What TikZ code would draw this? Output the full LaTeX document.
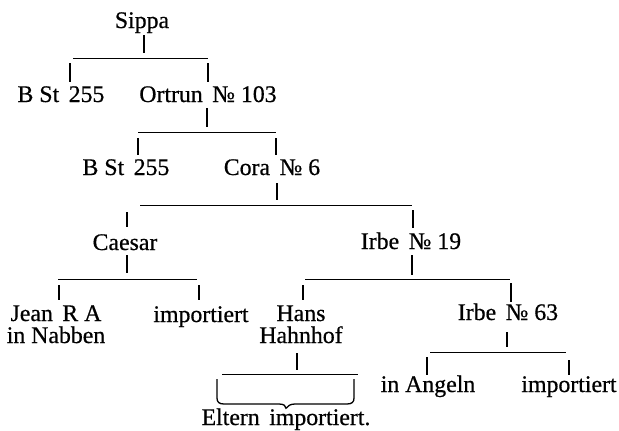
\documentclass[tikz,border=0pt]{standalone}
\usepackage{fontspec}
\setmainfont{Liberation Serif}
\newfontfamily\stammfamily{Liberation Serif}[FakeBold=0.6]
\newcommand{\stammfont}{\stammfamily\fontsize{23.8}{22}\selectfont}
\newcommand{\gap}{\hspace{0.4em}}
\tikzset{
  entry/.style={inner sep=0pt, anchor=base, font=\stammfont, align=center},
  stub/.style={line width=1.3pt},
  bar/.style={line width=0.9pt},
}
\begin{document}
\begin{tikzpicture}[x=1pt, y=-1pt]
    \useasboundingbox (0,0) rectangle (619,431);

    % Namen
    \node[entry] (sippa)  at (142,28)  {Sippa};
    \node[entry] (bst1)   at (61,102)  {B St\gap 255};
    \node[entry] (ortrun) at (208,102) {Ortrun\gap № 103};
    \node[entry] (bst2)   at (126,175) {B St\gap 255};
    \node[entry] (cora)   at (272,175) {Cora\gap № 6};
    \node[entry] (caesar) at (125,250) {Caesar};
    \node[entry] (irbe1)  at (411,249) {Irbe\gap № 19};
    \node[entry] (jean)   at (56,343)  {Jean\gap R A\\in Nabben};
    \node[entry] (imp1)   at (201,322) {importiert};
    \node[entry] (hans)   at (301,343) {Hans\\Hahnhof};
    \node[entry] (irbe2)  at (508,320) {Irbe\gap № 63};
    \node[entry] (angeln) at (428,392) {in Angeln};
    \node[entry] (imp2)   at (569,392) {importiert};
    \node[entry] (eltern) at (286,425) {Eltern\gap importiert.};

    % Querbalken
    \draw[bar] (73,58)   coordinate (a1) -- (208,58)  coordinate (a2);
    \draw[bar] (138,132) coordinate (b1) -- (276,132) coordinate (b2);
    \draw[bar] (140,205) coordinate (c1) -- (412,205) coordinate (c2);
    \draw[bar] (58,279)  coordinate (d1) -- (197,279) coordinate (d2);
    \draw[bar] (305,279) coordinate (e1) -- (510,279) coordinate (e2);
    \draw[bar] (222,374) coordinate (f1) -- (358,374) coordinate (f2);
    \draw[bar] (430,352) coordinate (g1) -- (566,352) coordinate (g2);

    % Striche nach oben
    \draw[stub] (sippa.south)  ++(2,2)  -- ++(0,18);
    \draw[stub] (ortrun.south) ++(-1,6) -- ++(0,19);
    \draw[stub] (cora.south)   ++(5,8)  -- ++(0,17);
    \draw[stub] (caesar.south) ++(2,5)  -- ++(0,18);
    \draw[stub] (irbe1.south)  ++(1,6)  -- ++(0,20);
    \draw[stub] (hans.south)   ++(-4,10) -- ++(0,17);
    \draw[stub] (irbe2.south)  ++(-1,12) -- ++(0,15);

    % Striche nach unten
    \draw[stub] (a1) ++(-3,5) -- ++(0,19);
    \draw[stub] (a2) ++(0,5)  -- ++(0,19);
    \draw[stub] (b1) ++(0,6)  -- ++(0,17);
    \draw[stub] (b2) ++(0,6)  -- ++(0,17);
    \draw[stub] (c1) ++(-13,7) -- ++(0,15);
    \draw[stub] (c2) ++(1,5)  -- ++(0,18);
    \draw[stub] (d1) ++(1,6)  -- ++(0,15);
    \draw[stub] (d2) ++(2,6)  -- ++(0,15);
    \draw[stub] (e1) ++(-2,6) -- ++(0,15);
    \draw[stub] (e2) ++(1,4)  -- ++(0,19);
    \draw[stub] (g1) ++(-3,5) -- ++(0,18);
    \draw[stub] (g2) ++(3,8)  -- ++(0,15);

    % Klammer ueber den Eltern
    \draw[stub] (f1) ++(-5,5) -- (217,398) .. controls (217,402) and (219,404) .. (224,404)
        -- (279,404) .. controls (284,404) and (286,406) .. (eltern.north)
        .. controls (288,406) and (290,404) .. (295,404)
        -- (347,404) .. controls (352,404) and (354,402) .. (354,398) -- (354,379);
\end{tikzpicture}
\end{document}
